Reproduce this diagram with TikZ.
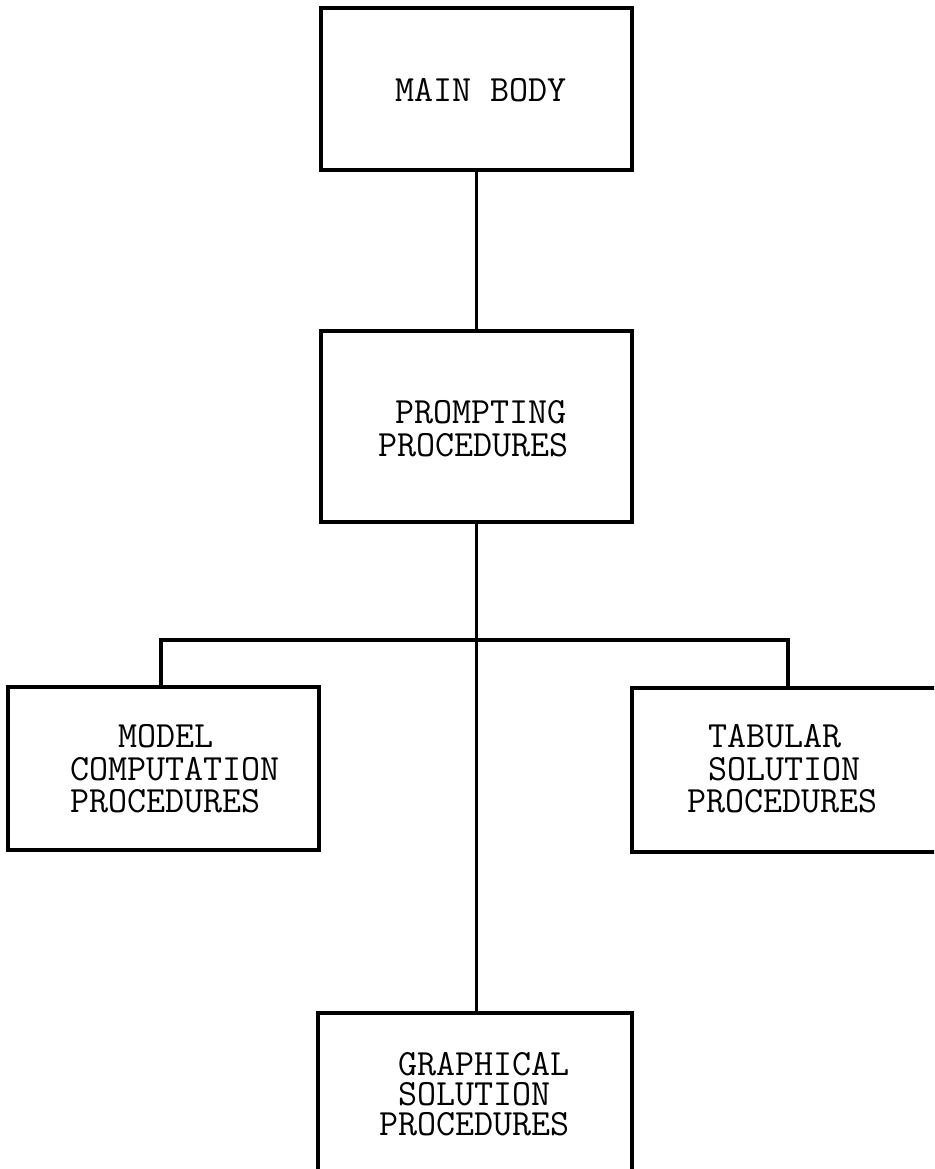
\documentclass[tikz,border=0pt]{standalone}
\usepackage{fontspec}
\begin{document}
\begin{tikzpicture}[x=1pt,y=-1pt,
  box/.style={draw=black, line width=3.2pt, rectangle, inner sep=0pt, outer sep=0pt, anchor=north west},
  lbl/.style={anchor=base west, inner sep=0pt, outer sep=0pt, font=\fontsize{37}{32.5}\selectfont\ttfamily},
  mlbl/.style={anchor=north west, align=left, inner sep=0pt, outer sep=0pt, font=\fontsize{37}{32.5}\selectfont\ttfamily},
  wire/.style={draw=black, line width=3.2pt}]
\useasboundingbox (0,0) rectangle (934,1169);
\clip (0,0) rectangle (934,1169);
\fill[white] (0,0) rectangle (934,1169);
% boxes
\node[box, minimum width=311pt, minimum height=162pt] (main) at (321,8) {};
\node[box, minimum width=311pt, minimum height=191pt] (prompt) at (321,331) {};
\node[box, minimum width=311pt, minimum height=163pt] (model) at (8,687) {};
\node[box, minimum width=310pt, minimum height=164pt] (tab) at (632,688) {};
\node[box, minimum width=314pt, minimum height=180pt] (graph) at (318,1013) {};
% labels
\node[lbl] (tmain) at (395,102) {MAIN BODY};
\node[mlbl] (tprompt) at (378,400.5) {\hspace*{17pt}PROMPTING\\PROCEDURES};
\node[mlbl] (tmodel) at (70,724.5) {\hspace*{48pt}MODEL\\COMPUTATION\\PROCEDURES};
\node[mlbl] (ttab) at (687,724.5) {\hspace*{21pt}TABULAR\\\hspace*{21pt}SOLUTION\\PROCEDURES};
\node[mlbl, font=\fontsize{37}{30}\selectfont\ttfamily] (tgraph) at (379,1052.5) {\hspace*{19pt}GRAPHICAL\\\hspace*{19pt}SOLUTION\\PROCEDURES};
% connectors
\coordinate (busL) at (161,640);
\coordinate (busR) at (788,640);
\draw[wire] (main.south) -- (prompt.north);
\draw[wire] (prompt.south) -- (prompt.south |- graph.north);
\draw[wire, line cap=rect] (busL) -- (busR);
\draw[wire] (busL) -- (busL |- model.north);
\draw[wire] (busR) -- (busR |- tab.north);
\end{tikzpicture}
\end{document}
